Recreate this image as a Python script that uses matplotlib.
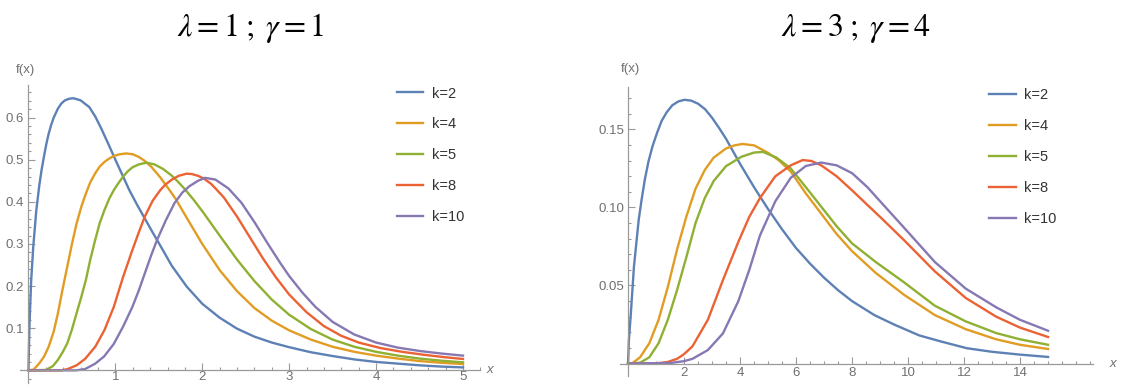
import matplotlib
matplotlib.use("Agg")
import matplotlib.pyplot as plt
from matplotlib.ticker import MultipleLocator, FixedLocator, FormatStrFormatter

plt.rcParams['font.family'] = ['Liberation Sans', 'DejaVu Sans']
plt.rcParams['mathtext.fontset'] = 'stix'

# values
labels = ['k=2', 'k=4', 'k=5', 'k=8', 'k=10']
colors = ['#5E81B5', '#E19C24', '#8FB032', '#EB6235', '#8778B3']

# left panel: lambda = 1, gamma = 1
l_k2_x = [0, 0.01, 0.03, 0.055, 0.09, 0.125, 0.15, 0.18, 0.205, 0.23, 0.26, 0.29, 0.34, 0.38, 0.42, 0.47,
          0.52, 0.6, 0.7, 0.77, 0.84, 0.92, 1.0, 1.08, 1.16, 1.25, 1.34, 1.43, 1.52, 1.65, 1.82, 2.0,
          2.2, 2.4, 2.6, 2.8, 3.0, 3.25, 3.5, 3.75, 4.0, 4.25, 4.5, 4.75, 5.0]
l_k2_y = [0, 0.1, 0.21, 0.294, 0.38, 0.44, 0.475, 0.51, 0.537, 0.56, 0.582, 0.6, 0.622, 0.634, 0.641,
          0.645, 0.646, 0.641, 0.625, 0.602, 0.573, 0.537, 0.5, 0.464, 0.428, 0.393, 0.36, 0.327, 0.295,
          0.248, 0.199, 0.158, 0.125, 0.099, 0.08, 0.066, 0.055, 0.043, 0.034, 0.026, 0.02, 0.016, 0.012,
          0.009, 0.007]
l_k4_x = [0, 0.06, 0.125, 0.18, 0.232, 0.29, 0.339, 0.39, 0.446, 0.5, 0.554, 0.61, 0.661, 0.71, 0.768,
          0.82, 0.875, 0.93, 0.982, 1.05, 1.124, 1.2, 1.267, 1.34, 1.41, 1.46, 1.517, 1.57, 1.64, 1.7,
          1.77, 1.85, 2.0, 2.2, 2.4, 2.6, 2.8, 3.0, 3.25, 3.5, 3.75, 4.0, 4.25, 4.5, 4.75, 5.0]
l_k4_y = [0, 0.002, 0.017, 0.033, 0.056, 0.092, 0.136, 0.19, 0.246, 0.3, 0.349, 0.39, 0.42, 0.446, 0.468,
          0.484, 0.495, 0.503, 0.509, 0.513, 0.515, 0.513, 0.507, 0.497, 0.484, 0.472, 0.458, 0.443, 0.423,
          0.405, 0.38, 0.352, 0.3, 0.238, 0.188, 0.148, 0.118, 0.095, 0.073, 0.056, 0.044, 0.035, 0.028,
          0.022, 0.018, 0.015]
l_k5_x = [0, 0.2, 0.28, 0.339, 0.39, 0.446, 0.5, 0.554, 0.61, 0.661, 0.71, 0.768, 0.82, 0.875, 0.93,
          0.982, 1.04, 1.089, 1.14, 1.196, 1.27, 1.357, 1.45, 1.55, 1.65, 1.72, 1.8, 1.9, 2.0, 2.2, 2.4,
          2.6, 2.8, 3.0, 3.25, 3.5, 3.75, 4.0, 4.25, 4.5, 4.75, 5.0]
l_k5_y = [0, 0.001, 0.01, 0.025, 0.042, 0.064, 0.097, 0.136, 0.176, 0.215, 0.262, 0.31, 0.35, 0.381,
          0.408, 0.428, 0.446, 0.46, 0.472, 0.482, 0.489, 0.493, 0.489, 0.478, 0.462, 0.448, 0.43, 0.405,
          0.378, 0.32, 0.263, 0.212, 0.168, 0.132, 0.098, 0.073, 0.056, 0.044, 0.035, 0.028, 0.023, 0.019]
l_k8_x = [0, 0.375, 0.45, 0.554, 0.65, 0.768, 0.875, 0.982, 1.089, 1.196, 1.27, 1.338, 1.43, 1.517,
          1.57, 1.65, 1.73, 1.82, 1.88, 1.95, 2.02, 2.1, 2.17, 2.25, 2.4, 2.55, 2.7, 2.85, 3.0, 3.2, 3.4,
          3.6, 3.8, 4.05, 4.3, 4.55, 4.8, 5.0]
l_k8_y = [0, 0, 0.003, 0.012, 0.027, 0.056, 0.096, 0.151, 0.222, 0.286, 0.328, 0.365, 0.403, 0.428,
          0.44, 0.453, 0.462, 0.467, 0.466, 0.462, 0.455, 0.443, 0.428, 0.41, 0.365, 0.315, 0.265, 0.22,
          0.18, 0.138, 0.105, 0.082, 0.066, 0.053, 0.044, 0.037, 0.031, 0.027]
l_k10_x = [0, 0.55, 0.65, 0.768, 0.87, 0.982, 1.089, 1.196, 1.27, 1.338, 1.41, 1.48, 1.58, 1.68, 1.77,
           1.85, 1.95, 2.03, 2.15, 2.3, 2.45, 2.6, 2.75, 2.9, 3.0, 3.15, 3.3, 3.5, 3.75, 4.0, 4.25, 4.5,
           4.75, 5.0]
l_k10_y = [0, 0, 0.003, 0.016, 0.033, 0.063, 0.104, 0.151, 0.19, 0.23, 0.272, 0.31, 0.356, 0.397, 0.422,
           0.437, 0.45, 0.457, 0.453, 0.432, 0.398, 0.352, 0.302, 0.254, 0.224, 0.185, 0.151, 0.115,
           0.085, 0.066, 0.054, 0.046, 0.04, 0.035]

# right panel: lambda = 3, gamma = 4
r_k2_x = [0, 0.03, 0.1, 0.21, 0.38, 0.48, 0.6, 0.73, 0.87, 1.03, 1.2, 1.38, 1.58, 1.8, 2.02, 2.25, 2.5,
          2.75, 3.0, 3.25, 3.5, 4.0, 4.5, 5.0, 5.5, 6.0, 6.5, 7.0, 7.5, 8.0, 8.8, 9.5, 10.4, 11.2, 12.1,
          13.0, 14.0, 15.0]
r_k2_y = [0, 0.015, 0.032, 0.062, 0.092, 0.1045, 0.118, 0.1295, 0.139, 0.1475, 0.1555, 0.161, 0.1655,
          0.168, 0.169, 0.1685, 0.1665, 0.163, 0.1575, 0.151, 0.144, 0.128, 0.113, 0.099, 0.086, 0.074,
          0.064, 0.055, 0.047, 0.04, 0.031, 0.025, 0.018, 0.014, 0.0098, 0.0075, 0.0057, 0.0042]
r_k4_x = [0, 0.16, 0.43, 0.76, 1.09, 1.42, 1.75, 2.08, 2.41, 2.74, 3.06, 3.5, 3.8, 4.08, 4.5, 5.0, 5.4,
          5.81, 6.35, 6.9, 7.45, 8.0, 8.85, 9.86, 10.96, 12.06, 13.15, 14.0, 15.0]
r_k4_y = [0, 0.0003, 0.004, 0.013, 0.028, 0.049, 0.073, 0.094, 0.112, 0.124, 0.132, 0.1378, 0.1398,
          0.1407, 0.1398, 0.135, 0.13, 0.123, 0.109, 0.096, 0.083, 0.072, 0.058, 0.044, 0.031, 0.022,
          0.0155, 0.012, 0.0093]
r_k5_x = [0, 0.43, 0.76, 1.09, 1.42, 1.75, 2.08, 2.41, 2.74, 3.06, 3.5, 4.05, 4.5, 4.82, 5.3, 5.81, 6.35,
          6.9, 7.45, 8.0, 8.85, 9.86, 10.96, 12.06, 13.15, 14.0, 15.0]
r_k5_y = [0, 0.0005, 0.004, 0.013, 0.028, 0.047, 0.068, 0.09, 0.106, 0.117, 0.1265, 0.1325, 0.1352,
          0.1356, 0.132, 0.125, 0.113, 0.1005, 0.088, 0.077, 0.065, 0.052, 0.037, 0.027, 0.0195, 0.0155,
          0.012]
r_k8_x = [0, 1.0, 1.42, 1.75, 2.0, 2.3, 2.85, 3.39, 3.94, 4.33, 4.71, 5.26, 5.81, 6.24, 6.55, 6.9, 7.45,
          8.0, 8.55, 9.0, 9.86, 10.96, 12.06, 13.15, 14.0, 15.0]
r_k8_y = [0, 0, 0.001, 0.003, 0.006, 0.011, 0.028, 0.0535, 0.078, 0.094, 0.106, 0.12, 0.127, 0.1304,
          0.1298, 0.127, 0.12, 0.111, 0.1016, 0.094, 0.079, 0.059, 0.042, 0.03, 0.023, 0.017]
r_k10_x = [0, 1.5, 2.0, 2.3, 2.85, 3.39, 3.94, 4.33, 4.71, 5.26, 5.81, 6.35, 6.9, 7.45, 8.0, 8.55, 8.9,
           9.86, 10.96, 12.06, 13.15, 14.0, 15.0]
r_k10_y = [0, 0.0003, 0.0015, 0.003, 0.0086, 0.0193, 0.04, 0.06, 0.082, 0.104, 0.119, 0.1266, 0.1288,
           0.127, 0.122, 0.113, 0.106, 0.087, 0.065, 0.048, 0.036, 0.028, 0.021]

left_series = [(l_k2_x, l_k2_y), (l_k4_x, l_k4_y), (l_k5_x, l_k5_y), (l_k8_x, l_k8_y), (l_k10_x, l_k10_y)]
right_series = [(r_k2_x, r_k2_y), (r_k4_x, r_k4_y), (r_k5_x, r_k5_y), (r_k8_x, r_k8_y), (r_k10_x, r_k10_y)]

axis_grey = '#9a9a9a'
label_grey = '#707070'


def style_axes(ax, xlim, ylim, xmajor, xminor, ymajor, yminor, yfmt, xpad):
    ax.set_xlim(*xlim)
    ax.set_ylim(*ylim)
    for side in ['top', 'right']:
        ax.spines[side].set_visible(False)
    for side in ['left', 'bottom']:
        ax.spines[side].set_position(('data', 0))
        ax.spines[side].set_color(axis_grey)
        ax.spines[side].set_linewidth(0.9)
    ax.xaxis.set_major_locator(FixedLocator(xmajor))
    ax.xaxis.set_minor_locator(MultipleLocator(xminor))
    ax.yaxis.set_major_locator(FixedLocator(ymajor))
    ax.yaxis.set_minor_locator(MultipleLocator(yminor))
    ax.yaxis.set_major_formatter(FormatStrFormatter(yfmt))
    ax.tick_params(which='both', direction='in', color=axis_grey, labelcolor=label_grey,
                   labelsize=9.5, width=0.8)
    ax.tick_params(which='major', length=5, pad=3)
    ax.tick_params(axis='x', which='major', pad=xpad)
    ax.tick_params(which='minor', length=2.5)
    ax.patch.set_alpha(0)


fig = plt.figure(figsize=(11.25, 3.85), dpi=100)

ax1 = fig.add_axes([0.0176, 0.0052, 0.4094, 0.7735])
ax2 = fig.add_axes([0.5508, 0.0234, 0.4206, 0.7514])

for (xs, ys), c, lab in zip(left_series, colors, labels):
    ax1.plot(xs, ys, color=c, lw=1.7, label=lab, solid_joinstyle='round')
for (xs, ys), c, lab in zip(right_series, colors, labels):
    ax2.plot(xs, ys, color=c, lw=1.7, label=lab, solid_joinstyle='round')

style_axes(ax1, (-0.1, 5.2), (-0.03, 0.677), [1, 2, 3, 4, 5], 0.2,
           [0.1, 0.2, 0.3, 0.4, 0.5, 0.6], 0.02, '%.1f', 0.8)
style_axes(ax2, (-0.3, 16.6), (-0.008, 0.1774), [2, 4, 6, 8, 10, 12, 14], 0.5,
           [0.05, 0.10, 0.15], 0.01, '%.2f', 2.5)

# axis labels in Mathematica style
ax1.text(-0.03, 0.713, 'f(x)', color=label_grey, fontsize=9.5, ha='center', va='center', clip_on=False)
ax1.text(5.31, 0, 'x', color=label_grey, fontsize=9.5, style='italic', ha='center', va='center', clip_on=False)
ax2.text(0.07, 0.1888, 'f(x)', color=label_grey, fontsize=9.5, ha='center', va='center', clip_on=False)
ax2.text(17.3, 0, 'x', color=label_grey, fontsize=9.5, style='italic', ha='center', va='center', clip_on=False)

for ax, anchor in [(ax1, (0.3529, 0.7753)), (ax2, (0.8794, 0.7714))]:
    ax.legend(loc='upper left', bbox_to_anchor=anchor, bbox_transform=fig.transFigure,
              frameon=False, fontsize=10.5, labelcolor='#333333', handlelength=1.8,
              handletextpad=0.6, labelspacing=1.16, borderpad=0, borderaxespad=0)

fig.text(0.2231, 0.927, r'$\lambda = 1\;;\;\gamma = 1$', fontsize=23, ha='center', va='center')
fig.text(0.761, 0.927, r'$\lambda = 3\;;\;\gamma = 4$', fontsize=23, ha='center', va='center')

fig.savefig('out.png', dpi=100, facecolor='white')
